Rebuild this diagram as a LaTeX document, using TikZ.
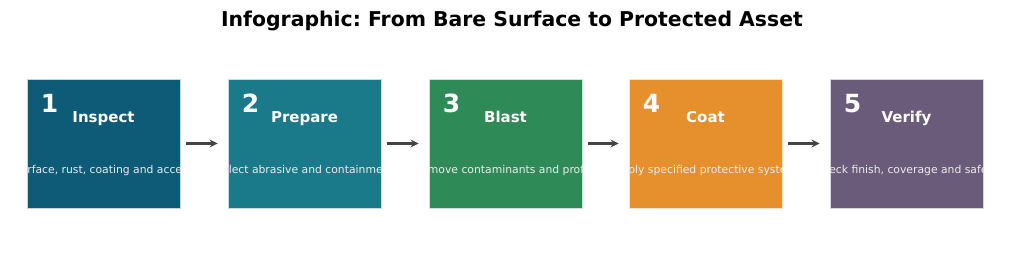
\documentclass[tikz,border=0pt]{standalone}
\usepackage{fontspec}
\setmainfont{DejaVu Sans}
\usetikzlibrary{arrows.meta}
\frenchspacing
\definecolor{cA}{HTML}{0E5B78}
\definecolor{cB}{HTML}{1A7A89}
\definecolor{cC}{HTML}{2E8B58}
\definecolor{cD}{HTML}{E5902C}
\definecolor{cE}{HTML}{6B5B7B}
\definecolor{arr}{HTML}{444444}
\begin{document}
\begin{tikzpicture}[x=1pt,y=-1pt,
  stepbox/.style={minimum width=153pt,minimum height=129pt,inner sep=0pt,draw=white!75!#1,line width=0.8pt,fill=#1},
  num/.style={text=white,font=\fontsize{25}{25}\selectfont\bfseries,inner sep=0pt,anchor=base},
  ttl/.style={text=white,font=\fontsize{15}{15}\selectfont\bfseries,inner sep=0pt,anchor=base},
  desc/.style={text=white!92!black,font=\fontsize{10.8}{12}\selectfont,inner sep=0pt,anchor=base},
  flow/.style={draw=arr,line width=2.2pt,-{Stealth[length=8pt,width=8pt]}}]
\useasboundingbox (0,0) rectangle (1024,254);
\node[font=\fontsize{20.4}{21}\selectfont\bfseries,inner sep=0pt,anchor=base] (head) at (512,27) {Infographic: From Bare Surface to Protected Asset};
% boxes
\node[stepbox=cA] (b1) at (103.5,143.5) {};
\node[stepbox=cB] (b2) at (304.5,143.5) {};
\node[stepbox=cC] (b3) at (505.5,143.5) {};
\node[stepbox=cD] (b4) at (705.5,143.5) {};
\node[stepbox=cE] (b5) at (906.5,143.5) {};
% numbers
\node[num] (n1) at (49.5,112) {1};
\node[num] (n2) at (250.5,112) {2};
\node[num] (n3) at (451.5,112) {3};
\node[num] (n4) at (651.5,112) {4};
\node[num] (n5) at (852.5,112) {5};
% titles
\node[ttl] (t1) at (103.5,122) {Inspect};
\node[ttl] (t2) at (304.5,122) {Prepare};
\node[ttl] (t3) at (505.5,122) {Blast};
\node[ttl] (t4) at (705.5,122) {Coat};
\node[ttl] (t5) at (906.5,122) {Verify};
% descriptions (clipped to boxes)
\begin{scope}\clip (b1.north west) rectangle (b1.south east);
\node[desc] (d1) at (103.5,173) {Surface, rust, coating and access};\end{scope}
\begin{scope}\clip (b2.north west) rectangle (b2.south east);
\node[desc] (d2) at (304.5,173) {Select abrasive and containment};\end{scope}
\begin{scope}\clip (b3.north west) rectangle (b3.south east);
\node[desc] (d3) at (505.5,173) {Remove contaminants and profile};\end{scope}
\begin{scope}\clip (b4.north west) rectangle (b4.south east);
\node[desc] (d4) at (705.5,173) {Apply specified protective system};\end{scope}
\begin{scope}\clip (b5.north west) rectangle (b5.south east);
\node[desc] (d5) at (906.5,173) {Check finish, coverage and safety};\end{scope}
% arrows
\draw[flow] ([xshift=6pt]b1.east) -- ([xshift=-10pt]b2.west);
\draw[flow] ([xshift=6pt]b2.east) -- ([xshift=-10pt]b3.west);
\draw[flow] ([xshift=6pt]b3.east) -- ([xshift=-10pt]b4.west);
\draw[flow] ([xshift=6pt]b4.east) -- ([xshift=-10pt]b5.west);
\end{tikzpicture}
\end{document}
